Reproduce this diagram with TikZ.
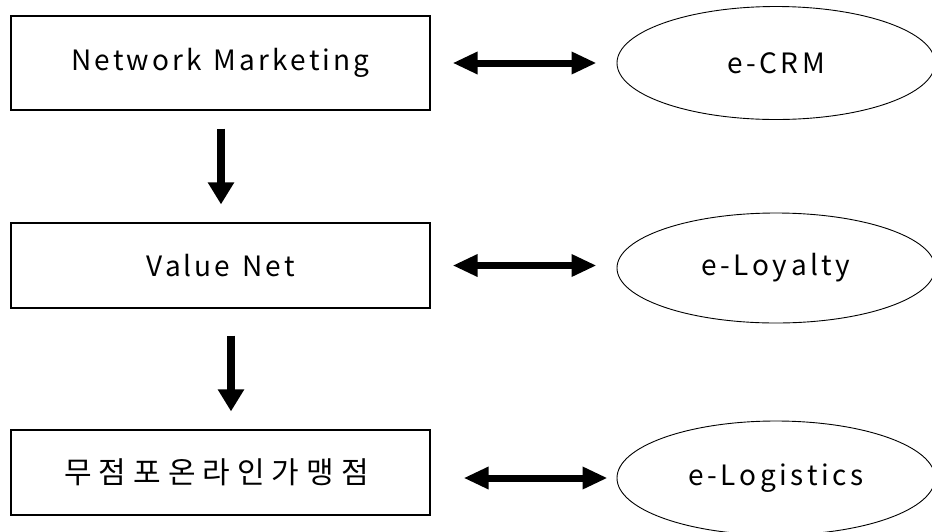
\documentclass[tikz,border=0pt]{standalone}
\usepackage{fontspec}
\setmainfont{Noto Sans CJK KR}
\usetikzlibrary{arrows.meta,shapes.geometric}
\makeatletter
% letter-spaced text: puts a fixed kern after every character
\newcommand\tracked[2]{\def\tr@gap{#1}\@tfor\tr@c:=#2\do{\tr@c\kern\tr@gap\relax}\unkern}
\makeatother
\begin{document}
\begin{tikzpicture}[x=1pt,y=-1pt,
  box/.style={draw, line width=1.2pt, minimum width=419pt, minimum height=85pt, inner sep=0pt,
    font=\fontsize{28}{32}\selectfont},
  oval/.style={draw, ellipse, line width=0.9pt, minimum width=318pt, minimum height=113pt, inner sep=0pt,
    font=\fontsize{28}{32}\selectfont},
  link/.style={line width=7pt, {Triangle[length=25pt,width=21pt]}-{Triangle[length=25pt,width=21pt]}},
  flow/.style={line width=8pt, -{Triangle[length=22pt,width=25pt]}}]
\useasboundingbox (0,0) rectangle (932,531);
\fill[white] (0,0) rectangle (932,531);

% left column: boxes
\node[box, minimum height=94pt] (nm) at (220.5,63) {\tracked{3pt}{Network{~}Marketing}};
\node[box] (vn) at (220.5,265.5) {\tracked{3pt}{Value{~}Net}};
\node[box, font=\fontsize{30}{34}\selectfont] (ol) at (220.5,472.5) {\tracked{7pt}{무점포온라인가맹점}\kern8pt};

% right column: ellipses
\node[oval] (crm) at (776,63) {\tracked{3.5pt}{e-CRM}};
\node[oval, minimum height=110pt] (loy) at (776,268) {\tracked{3.5pt}{e-Loyalty}};
\node[oval, minimum height=114pt] (log) at (776,478) {\tracked{3.5pt}{e-Logistics}};

% two-way links
\draw[link, shorten <=22pt, shorten >=20pt] (nm.east) -- (crm.west);
\draw[link, shorten <=22pt, shorten >=20pt] (vn.east) -- (loy.west |- vn.east);
\draw[link, shorten <=33pt, shorten >=9pt] (ol.east |- log.center) -- (log.west);

% downward flow
\draw[flow, shorten <=18pt, shorten >=18pt] ([xshift=0.5pt]nm.south) -- ([xshift=0.5pt]vn.north);
\draw[flow, shorten <=27pt, shorten >=18pt] ([xshift=10.5pt]vn.south) -- ([xshift=10.5pt]ol.north);
\end{tikzpicture}
\end{document}
